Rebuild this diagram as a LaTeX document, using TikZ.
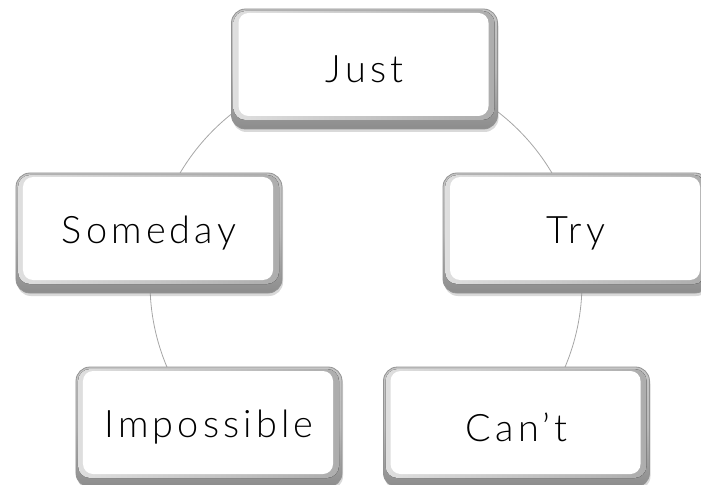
\documentclass[tikz,border=0pt]{standalone}
\usepackage{fontspec}
\setmainfont{Lato}[UprightFont=* Light, LetterSpace=11]
\usetikzlibrary{shadows}
\begin{document}
\begin{tikzpicture}[x=1bp,y=-1bp,
  bev/.style={rounded corners=14bp, minimum width=266bp, minimum height=120bp, inner sep=0pt,
    draw=gray!85, line width=0.8bp, top color=gray!45, bottom color=gray!90, middle color=gray!55,
    drop shadow={shadow xshift=1bp, shadow yshift=-3bp, opacity=0.3},
    path picture={
      \fill[left color=gray!25, right color=gray!65, rounded corners=12bp]
        ([xshift=2bp,yshift=9bp]path picture bounding box.south west) rectangle
        ([xshift=-3bp,yshift=-2bp]path picture bounding box.north east);
      \fill[white, rounded corners=10bp]
        ([xshift=7bp,yshift=13bp]path picture bounding box.south west) rectangle
        ([xshift=-9bp,yshift=-4bp]path picture bounding box.north east);
    },
    font=\fontsize{38}{42}\selectfont, text=black},
  ringst/.style={circle, draw=gray!70, line width=0.8bp, minimum size=432bp, inner sep=0pt}]
\useasboundingbox (0,0) rectangle (701,485);
\clip (0,0) rectangle (701,485);
\node[ringst] (ring) at (366,283) {};
\node[bev] (just) at (364.5,69) {Just};
\node[bev] (someday) at (149,233) {Someday};
\node[bev] (try) at (576,233) {Try};
\node[bev] (imp) at (209,427) {Impossible};
\node[bev] (cant) at (516.5,427) {Can’t};
\end{tikzpicture}
\end{document}
